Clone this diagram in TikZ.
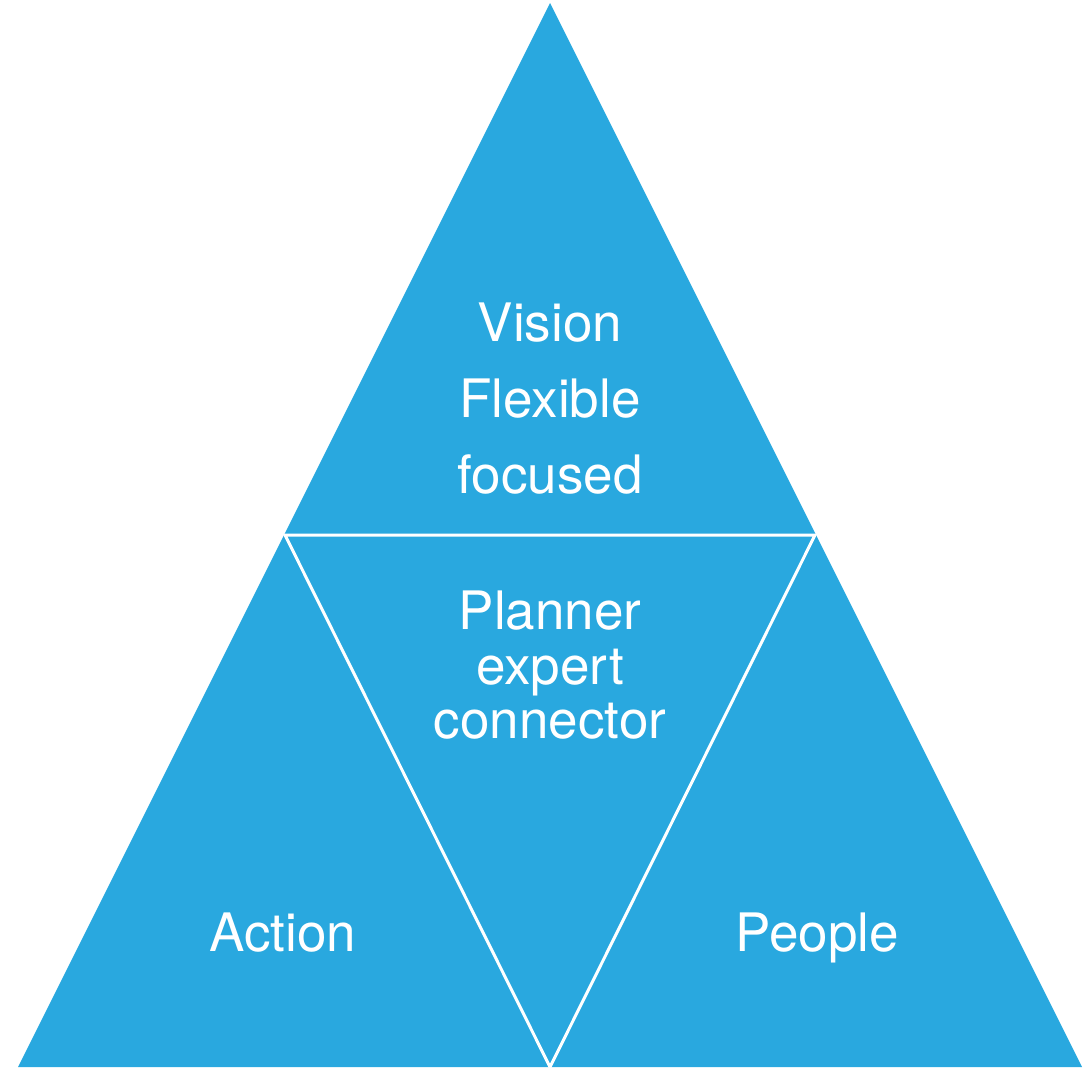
\documentclass[tikz,border=0pt]{standalone}
\usepackage{fontspec}
\setmainfont{TeX Gyre Heros}
\definecolor{pyrblue}{RGB}{41,168,223}

\begin{document}
\begin{tikzpicture}[x=1pt,y=-1pt]

        \useasboundingbox (0,0) rectangle (1089,1068);

        % corners of the pyramid
        \coordinate (top) at (550,3);
        \coordinate (midL) at (285,535);   \coordinate (midR) at (815,535);
        \coordinate (botL) at (18,1067);   \coordinate (botM) at (550,1067); \coordinate (botR) at (1082,1067);

        \fill [pyrblue] (top) -- (botR) -- (botL) -- cycle;
        \draw [white,line width=3pt] (midL) -- (midR) -- (botM) -- cycle;

        \tikzset{lbl/.style={text=white,anchor=base,inner sep=0pt,font=\fontsize{53}{53}\selectfont}}

        \node[lbl] (vision)    at (550,341) {Vision};
        \node[lbl] (flexible)  at (550,417) {Flexible};
        \node[lbl] (focused)   at (550,493) {focused};

        \node[lbl] (planner)   at (550,629) {Planner};
        \node[lbl] (expert)    at (550,684) {expert};
        \node[lbl] (connector) at (550,738) {connector};

        \node[lbl] (action)    at (283,951) {Action};
        \node[lbl] (people)    at (817,951) {People};

      \end{tikzpicture}
\end{document}
